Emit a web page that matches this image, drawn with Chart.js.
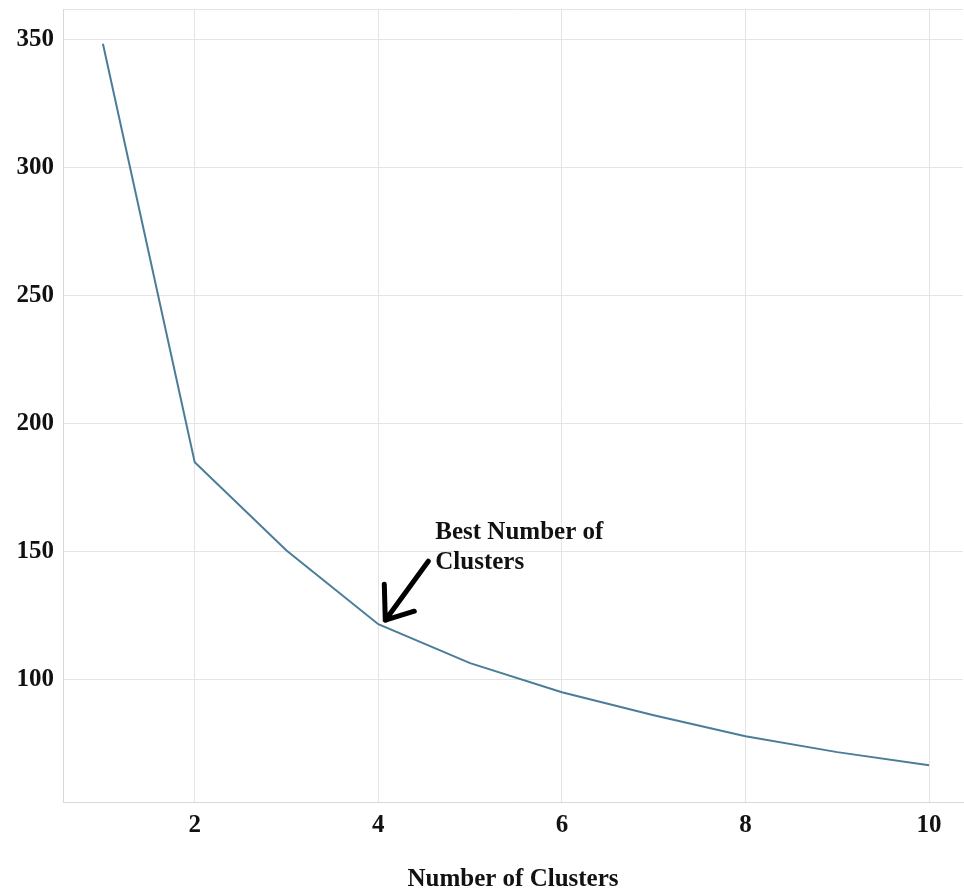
<!DOCTYPE html>
<html>
<head>
<meta charset="utf-8">
<script src="https://cdn.jsdelivr.net/npm/chart.js@4.4.1/dist/chart.umd.min.js"></script>
<style>
  html, body { margin: 0; padding: 0; background: #fff; }
  #wrap { width: 964px; height: 895px; }
</style>
</head>
<body>
<div id="wrap"><canvas id="chart" width="964" height="895"></canvas></div>
<script>
const clusters = [1, 2, 3, 4, 5, 6, 7, 8, 9, 10];
const inertia = [348.4, 184.8, 150.3, 121.5, 106.3, 94.9, 85.9, 77.7, 71.5, 66.4];
const xTicks = [2, 4, 6, 8, 10];
const yTicks = [52, 100, 150, 200, 250, 300, 350, 362];
const bestK = 4;
const noteLines = ['Best Number of', 'Clusters'];

const serif = '"Liberation Serif", "Times New Roman", serif';

// arrow + note pointing at the elbow
const elbowNote = {
    id: 'elbowNote',
    afterDatasetsDraw(chart) {
        const ctx = chart.ctx;
        const x = chart.scales.x;
        const y = chart.scales.y;
        const px = x.getPixelForValue(bestK);
        const py = y.getPixelForValue(inertia[clusters.indexOf(bestK)]);
        const tipX = px + 7, tipY = py - 4;

        ctx.save();
        ctx.strokeStyle = '#000';
        ctx.lineWidth = 5;
        ctx.lineCap = 'round';
        ctx.lineJoin = 'round';
        ctx.beginPath();
        ctx.moveTo(px + 50, py - 63);
        ctx.lineTo(tipX, tipY);
        ctx.moveTo(tipX - 1, py - 40);
        ctx.lineTo(tipX, tipY);
        ctx.lineTo(px + 36, py - 13);
        ctx.stroke();

        ctx.fillStyle = '#111';
        ctx.font = 'bold 25px ' + serif;
        ctx.textAlign = 'left';
        ctx.textBaseline = 'alphabetic';
        noteLines.forEach((t, i) => ctx.fillText(t, px + 57, py - 85 + i * 30));
        ctx.restore();
    }
};

new Chart(document.getElementById('chart'), {
    type: 'line',
    data: {
        datasets: [{
            data: clusters.map((c, i) => ({ x: c, y: inertia[i] })),
            borderColor: '#4b7d99',
            borderWidth: 2,
            pointRadius: 0,
            fill: false,
            tension: 0
        }]
    },
    options: {
        responsive: false,
        animation: false,
        layout: { padding: { top: 9, right: 1, left: 0, bottom: 0 } },
        plugins: {
            legend: { display: false },
            tooltip: { enabled: false }
        },
        scales: {
            x: {
                type: 'linear',
                min: 0.565,
                max: 10.37,
                afterBuildTicks: (s) => { s.ticks = xTicks.map(v => ({ value: v })); },
                afterFit: (s) => { s.height = 93; },
                grid: { color: '#e4e4e4', drawTicks: false },
                border: { color: '#d8d8d8' },
                ticks: {
                    padding: 9,
                    color: '#111',
                    font: { family: serif, size: 25, weight: 'bold' }
                },
                title: {
                    display: true,
                    text: 'Number of Clusters',
                    color: '#111',
                    padding: { top: 0, bottom: 0 },
                    font: { family: serif, size: 25, weight: 'bold' }
                }
            },
            y: {
                min: 52,
                max: 362,
                afterBuildTicks: (s) => { s.ticks = yTicks.map(v => ({ value: v })); },
                afterFit: (s) => {
                    s.width = 63;
                    s.paddingTop = 0;
                    s.paddingBottom = 0;
                },
                grid: { color: '#e4e4e4', drawTicks: false },
                border: { color: '#d8d8d8' },
                ticks: {
                    padding: 9,
                    color: '#111',
                    font: { family: serif, size: 25, weight: 'bold' },
                    callback: (v) => (v % 50 === 0 ? v : '')
                }
            }
        }
    },
    plugins: [elbowNote]
});
</script>
</body>
</html>
